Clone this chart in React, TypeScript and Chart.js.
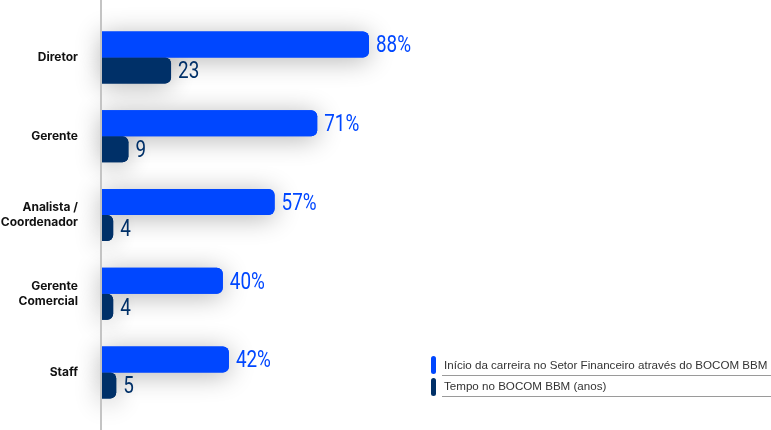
import React, { useEffect, useRef } from "react";
import { Chart, registerables } from "chart.js";

Chart.register(...registerables);

const categories: string[][] = [
  ["Diretor"],
  ["Gerente"],
  ["Analista /", "Coordenador"],
  ["Gerente", "Comercial"],
  ["Staff"],
];
const inicioValues = [88, 71, 57, 40, 42];
const tempoValues = [23, 9, 4, 4, 5];
const seriesNames = [
  "Início da carreira no Setor Financeiro através do BOCOM BBM",
  "Tempo no BOCOM BBM (anos)",
];
const BLUE = "#0047ff";
const DARK = "#003068";

const shadowPlugin = {
  id: "barShadow",
  beforeDatasetsDraw(chart: any) {
    const ctx = chart.ctx;
    ctx.save();
    ctx.shadowColor = "rgba(0,0,0,0.3)";
    ctx.shadowBlur = 26;
    ctx.shadowOffsetX = 0;
    ctx.shadowOffsetY = 3;
    chart.data.datasets.forEach((_: any, di: number) => {
      const meta = chart.getDatasetMeta(di);
      meta.data.forEach((el: any) => el.draw(ctx, chart.chartArea));
    });
    ctx.restore();
  },
};

const axisLinePlugin = {
  id: "axisLine",
  afterDraw(chart: any) {
    const ctx = chart.ctx;
    const x = chart.chartArea.left;
    ctx.save();
    ctx.strokeStyle = "#c4c4c4";
    ctx.lineWidth = 2;
    ctx.beginPath();
    ctx.moveTo(x, 0);
    ctx.lineTo(x, chart.height);
    ctx.stroke();
    ctx.restore();
  },
};

const valueLabelPlugin = {
  id: "valueLabels",
  afterDatasetsDraw(chart: any) {
    const ctx = chart.ctx;
    chart.data.datasets.forEach((ds: any, di: number) => {
      const meta = chart.getDatasetMeta(di);
      meta.data.forEach((el: any, i: number) => {
        const v = ds.data[i];
        const text = di === 0 ? `${v}%` : `${v}`;
        ctx.save();
        ctx.translate(el.x + 7, el.y + 2);
        ctx.scale(0.82, 1);
        ctx.font = "400 23px Roboto";
        ctx.fillStyle = di === 0 ? BLUE : DARK;
        ctx.textAlign = "left";
        ctx.textBaseline = "middle";
        ctx.fillText(text, 0, 0);
        ctx.restore();
      });
    });
  },
};

function ChartCanvas() {
  const ref = useRef<HTMLCanvasElement | null>(null);
  useEffect(() => {
    if (!ref.current) return;
    const chart = new Chart(ref.current, {
      type: "bar",
      data: {
        labels: categories,
        datasets: [
          {
            label: seriesNames[0],
            data: inicioValues,
            backgroundColor: BLUE,
            borderRadius: 6,
            borderSkipped: "start",
            barPercentage: 1,
            categoryPercentage: 0.66,
          },
          {
            label: seriesNames[1],
            data: tempoValues,
            backgroundColor: DARK,
            borderRadius: 6,
            borderSkipped: "start",
            barPercentage: 1,
            categoryPercentage: 0.66,
          },
        ],
      },
      options: {
        indexAxis: "y",
        animation: false,
        responsive: false,
        devicePixelRatio: 1,
        layout: { padding: { top: 18, bottom: 18, left: 0, right: 0 } },
        plugins: {
          legend: { display: false },
          tooltip: { enabled: false },
        },
        scales: {
          x: { display: false, min: 0, max: 220 },
          y: {
            border: { display: false },
            grid: { display: false, drawTicks: false },
            ticks: {
              padding: 23,
              color: "#111111",
              font: { family: "Inter", size: 12, weight: "700", lineHeight: 1.25 },
            },
            afterFit: (s: any) => {
              s.width = 101;
              s.paddingTop = 0;
              s.paddingBottom = 0;
            },
          },
        },
      },
      plugins: [shadowPlugin, valueLabelPlugin, axisLinePlugin],
    } as any);
    return () => chart.destroy();
  }, []);
  return <canvas ref={ref} width={771} height={430} style={{ display: "block" }} />;
}

export default function App() {
  const legendColors = [BLUE, DARK];
  return (
    <div style={{ position: "absolute", left: 0, top: 0, width: 771, height: 430, background: "#fff", overflow: "hidden" }}>
      <ChartCanvas />
      {seriesNames.map((name, i) => (
        <div key={name}>
          <div
            style={{
              position: "absolute",
              left: 431,
              top: 356 + i * 22,
              width: 5,
              height: 18,
              borderRadius: 3,
              background: legendColors[i],
            }}
          />
          <div
            style={{
              position: "absolute",
              left: 444,
              top: 357 + i * 21,
              fontFamily: '"Liberation Sans", Arial, sans-serif',
              fontSize: 11.6,
              lineHeight: "16px",
              color: "#333",
              whiteSpace: "nowrap",
            }}
          >
            {name}
          </div>
          <div
            style={{
              position: "absolute",
              left: 442,
              top: 375 + i * 21,
              width: 329,
              height: 1,
              background: "#9a9a9a",
            }}
          />
        </div>
      ))}
    </div>
  );
}
